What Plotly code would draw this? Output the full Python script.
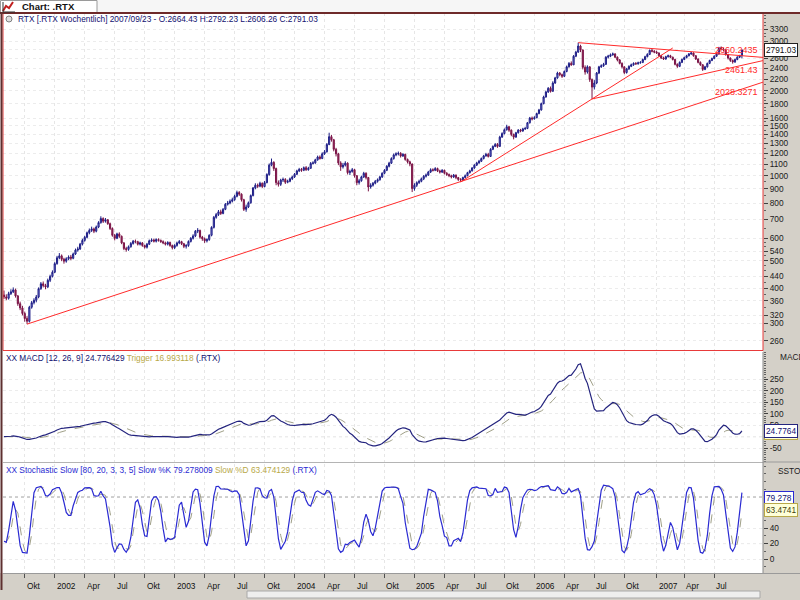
import math
import pandas as pd
import plotly.graph_objects as go

# ---------------- data (weekly RTX) ----------------
dates = pd.date_range("2001-08-05", periods=321, freq="7D")

closes = [
    372, 368, 382, 388, 394, 375, 352, 340, 325, 312,
    305, 342, 355, 362, 372, 398, 414, 408, 404, 426,
    440, 455, 488, 512, 520, 506, 498, 508, 515, 510,
    528, 545, 550, 572, 590, 605, 628, 640, 648, 636,
    658, 682, 705, 690, 698, 676, 650, 615, 600, 622,
    610, 578, 552, 548, 560, 575, 586, 584, 572, 578,
    566, 558, 572, 588, 592, 586, 594, 590, 584, 578,
    572, 580, 566, 556, 566, 578, 584, 574, 562, 566,
    585, 600, 612, 636, 640, 606, 598, 588, 594, 615,
    656, 712, 728, 745, 735, 760, 792, 800, 812, 822,
    845, 872, 860, 822, 760, 775, 802, 850, 905, 925,
    918, 940, 915, 945, 1010, 1090, 1115, 1060, 945, 932,
    965, 970, 948, 955, 975, 990, 1012, 1040, 1052, 1045,
    1068, 1050, 1062, 1105, 1110, 1138, 1165, 1150, 1195, 1215,
    1290, 1375, 1340, 1240, 1195, 1110, 1075, 1090, 1108, 1025,
    1035, 1050, 1000, 945, 960, 990, 1020, 985, 912, 925,
    940, 955, 968, 990, 1020, 1045, 1080, 1108, 1150, 1185,
    1195, 1200, 1175, 1190, 1142, 1120, 1100, 900, 925, 945,
    955, 975, 995, 1005, 1030, 1050, 1045, 1060, 1040, 1030,
    1045, 1020, 1010, 1000, 990, 1005, 985, 970, 966, 985,
    1000, 1025, 1040, 1065, 1090, 1110, 1125, 1150, 1175, 1190,
    1170, 1240, 1270, 1290, 1270, 1370, 1410, 1455, 1490, 1450,
    1400, 1370, 1420, 1450, 1440, 1465, 1470, 1540, 1600, 1590,
    1605, 1660, 1710, 1800, 1900, 1980, 2040, 1990, 2130, 2220,
    2310, 2280, 2250, 2340, 2430, 2500, 2470, 2650, 2740, 2880,
    2790, 2420, 2330, 2430, 2190, 2060, 2130, 2310, 2430, 2450,
    2480, 2630, 2650, 2680, 2700, 2630, 2570, 2500, 2430, 2320,
    2390, 2440, 2470, 2500, 2490, 2510, 2520, 2580, 2640, 2690,
    2780, 2760, 2740, 2720, 2660, 2610, 2590, 2640, 2660, 2630,
    2580, 2480, 2440, 2520, 2580, 2620, 2660, 2700, 2720, 2660,
    2590, 2520, 2470, 2380, 2430, 2500, 2560, 2600, 2650, 2700,
    2840, 2810, 2790, 2690, 2610, 2560, 2530, 2580, 2630, 2664.43, 2791.03,
]

highs = [
    392, 380, 388, 396, 402, 398, 378, 358, 346, 330,
    318, 346, 360, 368, 378, 402, 420, 422, 414, 432,
    446, 462, 494, 520, 532, 526, 512, 514, 522, 524,
    534, 552, 560, 578, 598, 612, 634, 650, 660, 655,
    666, 690, 718, 712, 708, 702, 682, 656, 622, 628,
    630, 614, 582, 560, 566, 582, 592, 594, 588, 584,
    582, 570, 578, 594, 600, 598, 600, 600, 594, 590,
    584, 586, 584, 570, 572, 584, 592, 588, 578, 572,
    590, 606, 620, 642, 652, 644, 612, 604, 600, 620,
    662, 720, 738, 756, 758, 768, 800, 814, 824, 836,
    856, 885, 882, 866, 828, 790, 810, 858, 912, 940,
    938, 952, 946, 958, 1020, 1105, 1150, 1125, 1068, 962,
    975, 985, 980, 968, 985, 1000, 1022, 1050, 1066, 1065,
    1078, 1082, 1075, 1118, 1125, 1148, 1178, 1180, 1210, 1232,
    1305, 1420, 1395, 1350, 1255, 1205, 1125, 1110, 1125, 1115,
    1050, 1065, 1058, 1005, 975, 1000, 1032, 1028, 990, 940,
    950, 966, 978, 1000, 1028, 1055, 1090, 1120, 1162, 1198,
    1210, 1218, 1212, 1202, 1196, 1150, 1130, 1105, 940, 955,
    968, 985, 1005, 1018, 1040, 1062, 1062, 1072, 1068, 1050,
    1055, 1050, 1030, 1018, 1008, 1014, 1010, 990, 980, 992,
    1010, 1032, 1050, 1072, 1098, 1120, 1138, 1160, 1185, 1205,
    1205, 1252, 1280, 1305, 1305, 1385, 1425, 1470, 1515, 1500,
    1458, 1410, 1430, 1462, 1465, 1478, 1490, 1550, 1615, 1620,
    1625, 1672, 1725, 1815, 1920, 2000, 2060, 2070, 2160, 2240,
    2335, 2330, 2300, 2360, 2455, 2525, 2540, 2675, 2770, 2960,
    2910, 2800, 2460, 2460, 2440, 2210, 2180, 2330, 2450, 2480,
    2510, 2650, 2680, 2710, 2730, 2715, 2645, 2590, 2520, 2440,
    2410, 2460, 2495, 2520, 2525, 2535, 2545, 2600, 2660, 2715,
    2800, 2810, 2785, 2770, 2735, 2680, 2640, 2660, 2685, 2680,
    2640, 2595, 2500, 2540, 2600, 2640, 2680, 2720, 2745, 2735,
    2675, 2605, 2540, 2485, 2450, 2515, 2575, 2620, 2670, 2720,
    2860, 2870, 2835, 2800, 2700, 2625, 2580, 2600, 2650, 2680, 2792.23,
]

lows = [
    366, 362, 364, 378, 384, 370, 346, 334, 320, 304,
    298, 302, 338, 350, 356, 368, 394, 402, 396, 400,
    420, 436, 452, 484, 506, 498, 488, 492, 502, 502,
    506, 524, 538, 546, 566, 584, 600, 620, 632, 626,
    630, 652, 676, 680, 682, 670, 642, 608, 590, 596,
    602, 572, 545, 538, 542, 556, 570, 576, 566, 566,
    560, 552, 552, 568, 582, 580, 580, 584, 578, 572,
    566, 566, 560, 548, 550, 560, 572, 568, 554, 552,
    560, 580, 594, 606, 626, 598, 588, 578, 580, 588,
    610, 650, 704, 720, 726, 730, 755, 784, 792, 804,
    815, 838, 848, 810, 750, 745, 768, 796, 845, 895,
    905, 910, 905, 910, 940, 1000, 1080, 1040, 925, 915,
    920, 950, 935, 940, 948, 965, 982, 1005, 1030, 1032,
    1038, 1040, 1042, 1058, 1095, 1102, 1130, 1140, 1145, 1185,
    1208, 1282, 1320, 1220, 1170, 1090, 1040, 1060, 1078, 1010,
    1005, 1025, 985, 925, 930, 952, 982, 970, 880, 900,
    915, 932, 945, 960, 982, 1012, 1038, 1070, 1100, 1140,
    1172, 1180, 1160, 1165, 1130, 1105, 1080, 875, 885, 912,
    935, 948, 965, 985, 998, 1022, 1035, 1038, 1030, 1018,
    1022, 1010, 998, 988, 978, 982, 972, 958, 950, 958,
    978, 995, 1018, 1035, 1058, 1082, 1102, 1118, 1142, 1168,
    1160, 1165, 1232, 1262, 1255, 1265, 1362, 1400, 1445, 1430,
    1380, 1345, 1362, 1410, 1425, 1430, 1452, 1462, 1530, 1570,
    1580, 1598, 1650, 1700, 1790, 1890, 1965, 1970, 1985, 2115,
    2205, 2250, 2220, 2235, 2325, 2415, 2450, 2465, 2630, 2725,
    2740, 2380, 2280, 2300, 2150, 1870, 2020, 2110, 2290, 2410,
    2430, 2470, 2600, 2630, 2660, 2610, 2540, 2480, 2400, 2290,
    2300, 2370, 2425, 2450, 2470, 2475, 2495, 2505, 2565, 2625,
    2675, 2735, 2715, 2700, 2640, 2590, 2570, 2575, 2620, 2610,
    2560, 2460, 2410, 2425, 2505, 2565, 2605, 2645, 2680, 2640,
    2570, 2500, 2450, 2350, 2365, 2415, 2485, 2545, 2585, 2635,
    2685, 2785, 2760, 2660, 2580, 2530, 2495, 2510, 2565, 2610, 2606.26,
]

# weekly open = previous week's close (first week's open)
opens = [378.0] + closes[:-1]

# trend lines: anchor bar index / price, end bar index / price, extend to right edge
tl_start_idx = [10, 198, 255, 249]
tl_start_val = [298.0, 950.0, 1870.0, 2960.0]
tl_end_idx = [320, 290, 320, 320]
tl_end_val = [2028.3271, 2834.0, 2461.43, 2660.2435]
tl_extend = [True, False, True, True]
tl_label_text = ["2028.3271", "", "2461.43", "2660.2435"]

main_title = "RTX [.RTX Wochentlich] 2007/09/23 - O:2664.43 H:2792.23 L:2606.26 C:2791.03"
macd_vals_text = ("24.776429", "16.993118")
stoch_vals_text = ("79.278009", "63.474129")
last_close_box = 2791.03
macd_box = (24.7764, 16.9931)
stoch_box = (79.278, 63.4741)

price_ticks = [260, 300, 320, 360, 400, 440, 500, 540, 600, 700, 800, 900, 1000,
               1100, 1200, 1300, 1400, 1500, 1600, 1800, 2000, 2200, 2400, 2600, 2800, 3000, 3300]
price_hidden = [2800]          # label covered by the last-close box
macd_ticks = [-50, 0, 50, 100, 150, 200, 250]
macd_hidden = [0]              # label covered by the value boxes
stoch_ticks = [0, 20, 40]
month_names = {1: None, 4: "Apr", 7: "Jul", 10: "Okt"}

# ---------------- indicators ----------------
c = pd.Series(closes, dtype=float)
hs = pd.Series(highs, dtype=float)
ls = pd.Series(lows, dtype=float)
macd = c.ewm(span=12, adjust=False).mean() - c.ewm(span=26, adjust=False).mean()
trig = macd.ewm(span=9, adjust=False).mean()
hh = hs.rolling(5, min_periods=1).max()
ll = ls.rolling(5, min_periods=1).min()
fastk = 100 * (c - ll) / (hh - ll)
slowk = fastk.rolling(3, min_periods=1).mean()
slowd = slowk.rolling(3, min_periods=1).mean()

# ---------------- geometry helpers ----------------
W, H = 800, 600
def px(x):
    return x / W
def py(y):
    return 1 - y / H

FONT = "Liberation Sans, Arial, sans-serif"
FS = 8.3
bar_px = 2.306
x_left = dates[0] - pd.Timedelta(days=1.0 / bar_px * 7)
x_right = dates[0] + pd.Timedelta(days=(763 - 4) / bar_px * 7)

tick_dates, tick_text, seen = [], [], set()
for d in dates:
    if d.month in month_names and (d.year, d.month) not in seen:
        seen.add((d.year, d.month))
        tick_dates.append(d)
        tick_text.append(str(d.year) if d.month == 1 else month_names[d.month])

fig = go.Figure()

fig.add_trace(go.Candlestick(
    x=dates, open=opens, high=highs, low=lows, close=closes,
    increasing=dict(line=dict(color="#1c1c84", width=1), fillcolor="#8c8ce6"),
    decreasing=dict(line=dict(color="#7a1446", width=1), fillcolor="#a4285a"),
    whiskerwidth=0, xaxis="x", yaxis="y", showlegend=False, hoverinfo="skip"))

annotations = []
for s_i, s_v, e_i, e_v, ext, lab in zip(tl_start_idx, tl_start_val, tl_end_idx,
                                        tl_end_val, tl_extend, tl_label_text):
    d0, d1 = dates[s_i], dates[e_i]
    xs, ys = [d0, d1], [s_v, e_v]
    if ext:
        span = (d1 - d0).days
        slope = (math.log(e_v) - math.log(s_v)) / span
        extra = (x_right - d1).days
        xs.append(x_right)
        ys.append(e_v * math.exp(slope * extra))
    fig.add_trace(go.Scatter(x=xs, y=ys, mode="lines", line=dict(color="#ff2a2a", width=1),
                             xaxis="x", yaxis="y", showlegend=False, hoverinfo="skip"))
    if lab:
        shift = {"2660.2435": 6, "2461.43": -5, "2028.3271": -3}[lab]
        annotations.append(dict(x=px(760), xref="paper", y=math.log10(e_v), yref="y",
                                text=lab, showarrow=False, xanchor="right", yanchor="middle",
                                yshift=shift, font=dict(family=FONT, size=9, color="#ff2a2a")))

fig.add_trace(go.Scatter(x=dates, y=trig, mode="lines", line=dict(color="#a0a088", width=1, dash="dash"),
                         xaxis="x2", yaxis="y2", showlegend=False, hoverinfo="skip"))
fig.add_trace(go.Scatter(x=dates, y=macd, mode="lines", line=dict(color="#24247e", width=1.2),
                         xaxis="x2", yaxis="y2", showlegend=False, hoverinfo="skip"))
fig.add_trace(go.Scatter(x=dates, y=slowd, mode="lines", line=dict(color="#a0a088", width=1, dash="dash"),
                         xaxis="x3", yaxis="y3", showlegend=False, hoverinfo="skip"))
fig.add_trace(go.Scatter(x=dates, y=slowk, mode="lines", line=dict(color="#2a2ad2", width=1.2),
                         xaxis="x3", yaxis="y3", showlegend=False, hoverinfo="skip"))

xdom = [px(3), px(763)]
xbase = dict(type="date", range=[x_left, x_right], domain=xdom, showgrid=True,
             gridcolor="#e6e6e6", griddash="dot", gridwidth=1, tickvals=tick_dates,
             showticklabels=False, zeroline=False, showline=False, fixedrange=True)
tickfont = dict(family=FONT, size=FS, color="#1a1a1a")

main_minor = list(range(240, 600, 20)) + list(range(600, 1000, 50)) + list(range(1000, 2000, 50)) + list(range(2000, 3800, 100))
ybase = dict(side="right", ticks="outside", ticklen=4, tickcolor="#404040", tickfont=tickfont,
             showgrid=True, gridcolor="#ececec", griddash="dot", zeroline=False, fixedrange=True)

fig.update_layout(
    width=W, height=H, margin=dict(l=0, r=0, t=0, b=0),
    paper_bgcolor="white", plot_bgcolor="white",
    xaxis=dict(xbase, anchor="y", rangeslider=dict(visible=False)),
    xaxis2=dict(xbase, anchor="y2", matches="x"),
    xaxis3=dict(xbase, anchor="y3", matches="x", ticks="outside", ticklen=4, tickcolor="#505050"),
    yaxis=dict(ybase, type="log", domain=[py(350), py(13)],
               range=[math.log10(241.3), math.log10(3770)], anchor="x",
               tickvals=price_ticks, ticktext=["" if v in price_hidden else str(v) for v in price_ticks],
               minor=dict(tickvals=main_minor, ticks="outside", ticklen=2, tickcolor="#606060", showgrid=False)),
    yaxis2=dict(ybase, domain=[py(462), py(352)], range=[-111, 370], anchor="x2",
                tickvals=macd_ticks, ticktext=["" if v in macd_hidden else str(v) for v in macd_ticks],
                minor=dict(dtick=10, ticks="outside", ticklen=2, tickcolor="#606060", showgrid=False)),
    yaxis3=dict(ybase, domain=[py(573), py(464)], range=[-18, 122.6], anchor="x3",
                tickvals=stoch_ticks, ticktext=[str(v) for v in stoch_ticks],
                minor=dict(dtick=10, ticks="outside", ticklen=2, tickcolor="#606060", showgrid=False)),
)

shapes = []
def rect(x0, y0, x1, y1, fill, line=None, lw=1, layer="below"):
    shapes.append(dict(type="rect", xref="paper", yref="paper", x0=px(x0), x1=px(x1),
                       y0=py(y1), y1=py(y0), fillcolor=fill,
                       line=dict(color=line or fill, width=lw if line else 0), layer=layer))
def hline(x0, x1, y, color, lw=1, dash="solid"):
    shapes.append(dict(type="line", xref="paper", yref="paper", x0=px(x0), x1=px(x1),
                       y0=py(y), y1=py(y), line=dict(color=color, width=lw, dash=dash), layer="above"))
def vline(x, y0, y1, color, lw=1):
    shapes.append(dict(type="line", xref="paper", yref="paper", x0=px(x), x1=px(x),
                       y0=py(y0), y1=py(y1), line=dict(color=color, width=lw), layer="above"))

rect(0, 0, 800, 12, "#f6f6f6")
rect(0.5, 0.5, 97, 13, "white", line="#9a9a9a")
rect(763, 12, 800, 574, "#d4d0c8")
rect(0, 573, 800, 590, "#d4d0c8")
rect(0, 590, 800, 600, "#d4d0c8")
rect(247, 591, 760, 598, "#eeeeee", line="#a8a8a8", layer="above")

for v in [0]:
    shapes.append(dict(type="line", xref="paper", yref="y2", x0=px(3), x1=px(763), y0=v, y1=v,
                       line=dict(color="#a8a8a8", width=1, dash="dot"), layer="below"))
for v in [80, 20]:
    shapes.append(dict(type="line", xref="paper", yref="y3", x0=px(3), x1=px(763), y0=v, y1=v,
                       line=dict(color="#a0a0a0", width=1, dash="dot"), layer="below"))

hline(763, 800, 462, "#9a9a9a")
hline(3, 763, 462.5, "#b4b4b4")
hline(3, 800, 573.5, "#9a9a9a")
vline(763, 352, 573, "#8a8a8a")
shapes.append(dict(type="rect", xref="paper", yref="paper", x0=px(3), x1=px(763), y0=py(350.5), y1=py(13),
                   line=dict(color="#e83a3a", width=1), fillcolor="rgba(0,0,0,0)", layer="above"))
hline(0, 800, 13, "#6e2a2a", lw=2)
vline(1.5, 12, 590, "#5e3030", lw=2)
shapes.append(dict(type="circle", xref="paper", yref="paper", x0=px(6), x1=px(12), y0=py(22), y1=py(16),
                   line=dict(color="#808080", width=1), fillcolor="#e0e0e0", layer="above"))
shapes.append(dict(type="path", xref="paper", yref="paper",
                   path=f"M {px(3)},{py(11)} L {px(6)},{py(6)} L {px(9)},{py(8)} L {px(13)},{py(2)}",
                   line=dict(color="#c02020", width=2), layer="above"))
shapes.append(dict(type="path", xref="paper", yref="paper",
                   path=f"M {px(3)},{py(2)} L {px(3)},{py(12)} L {px(15)},{py(12)}",
                   line=dict(color="#303030", width=1), layer="above"))

def note(x, y, text, color="#000080", size=FS, xanchor="left", **kw):
    annotations.append(dict(x=px(x), y=py(y), xref="paper", yref="paper", text=text, showarrow=False,
                            xanchor=xanchor, yanchor="middle", font=dict(family=FONT, size=size, color=color), **kw))

note(20, 6.5, "<b>Chart: .RTX</b>", color="#101010", size=9.5)
note(16, 19, main_title, color="#101070")
note(4, 358, f"XX MACD [12, 26, 9] {macd_vals_text[0]} <span style='color:#b8a848'>Trigger {macd_vals_text[1]}</span> (.RTX)",
     color="#101070")
note(4, 470, f"XX Stochastic Slow [80, 20, 3, 3, 5] Slow %K {stoch_vals_text[0]} <span style='color:#b8a848'>Slow %D {stoch_vals_text[1]}</span> (.RTX)",
     color="#2a2ad2")
note(778, 357, "MACD", color="#202020")
note(776, 471, "SSTOCH", color="#202020")

for d, t in zip(tick_dates, tick_text):
    annotations.append(dict(x=d, xref="x3", y=py(586), yref="paper", text=t, showarrow=False,
                            xanchor="left", yanchor="middle", xshift=0,
                            font=dict(family=FONT, size=FS, color="#101010")))

def box(yref, yval, text, border, bg, color):
    annotations.append(dict(x=px(764), xref="paper", y=yval, yref=yref, text=text, showarrow=False,
                            xanchor="left", yanchor="middle", bordercolor=border, borderwidth=1,
                            borderpad=1, bgcolor=bg, font=dict(family=FONT, size=FS, color=color)))

box("y", math.log10(last_close_box), f"{last_close_box:.2f}", "#202020", "white", "#101010")
box("y2", macd_box[1], f"{macd_box[1]:.4f}", "#b8a848", "#ffffd8", "#606020")
box("y2", macd_box[0], f"{macd_box[0]:.4f}", "#24247e", "white", "#101070")
box("y3", stoch_box[0], f"{stoch_box[0]:.3f}", "#2a2ad2", "white", "#101070")
box("y3", stoch_box[1], f"{stoch_box[1]:.4f}", "#b8a848", "#ffffd8", "#404010")

fig.update_layout(shapes=shapes, annotations=annotations)
fig.write_html("out.html")
